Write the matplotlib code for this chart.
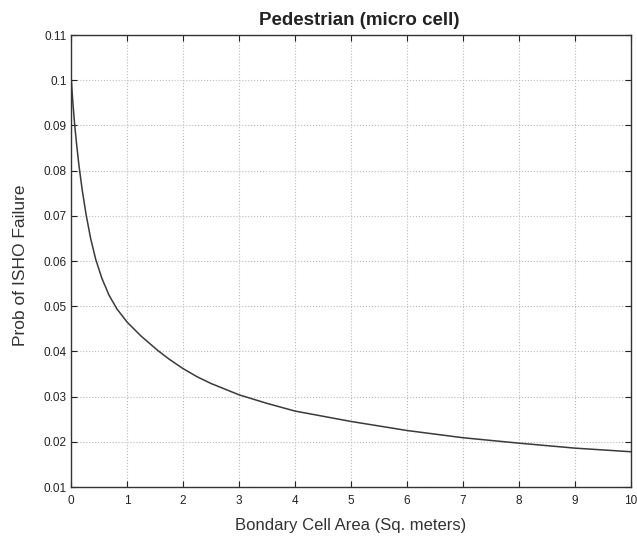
import matplotlib.pyplot as plt

# values
area = [0, 0.03, 0.066, 0.1, 0.14, 0.2, 0.27, 0.35, 0.44, 0.55, 0.68, 0.82,
        1.0, 1.25, 1.54, 1.75, 2.0, 2.25, 2.5, 3.0, 3.5, 4.0, 5.0, 6.0, 7.0,
        8.0, 9.0, 10.0]
prob = [0.101, 0.0955, 0.0900, 0.0858, 0.0813, 0.0757, 0.0702, 0.0650, 0.0604,
        0.0562, 0.0524, 0.0494, 0.0465, 0.0434, 0.0403, 0.0383, 0.0362, 0.0344,
        0.0329, 0.0304, 0.0285, 0.0268, 0.0245, 0.0225, 0.0209, 0.0197, 0.0186,
        0.0178]

plt.rcParams['font.family'] = ['Liberation Sans', 'DejaVu Sans']

fig = plt.figure(figsize=(6.37, 5.41), dpi=100)
ax = fig.add_axes([0.1115, 0.0998, 0.8791, 0.8355])

ax.plot(area, prob, color='#3a3a3a', linewidth=1.1)

ax.set_xlim(0, 10)
ax.set_ylim(0.01, 0.11)
ax.set_xticks(range(0, 11))
ax.set_yticks([0.01, 0.02, 0.03, 0.04, 0.05, 0.06, 0.07, 0.08, 0.09, 0.1, 0.11])
ax.set_yticklabels(['0.01', '0.02', '0.03', '0.04', '0.05', '0.06', '0.07',
                    '0.08', '0.09', '0.1', '0.11'])
ax.tick_params(direction='in', top=True, right=True, labelsize=8.5,
               colors='#222222', length=4, width=0.8)
ax.tick_params(axis='x', pad=6)
ax.tick_params(axis='y', pad=3)
ax.grid(True, linestyle=':', color='#bbbbbb', linewidth=0.8)
for s in ax.spines.values():
    s.set_color('#333333')
    s.set_linewidth(1.0)

ax.set_xlabel('Bondary Cell Area (Sq. meters)', fontsize=12, color='#333333')
ax.set_ylabel('Prob of ISHO Failure', fontsize=12.5, color='#333333')
ax.xaxis.set_label_coords(0.5, -0.068)
ax.yaxis.set_label_coords(-0.077, 0.49)
ax.set_title('Pedestrian (micro cell)', fontsize=13.5, fontweight='bold',
             color='#222222', pad=7, x=0.514)

fig.savefig('out.png', dpi=100)
